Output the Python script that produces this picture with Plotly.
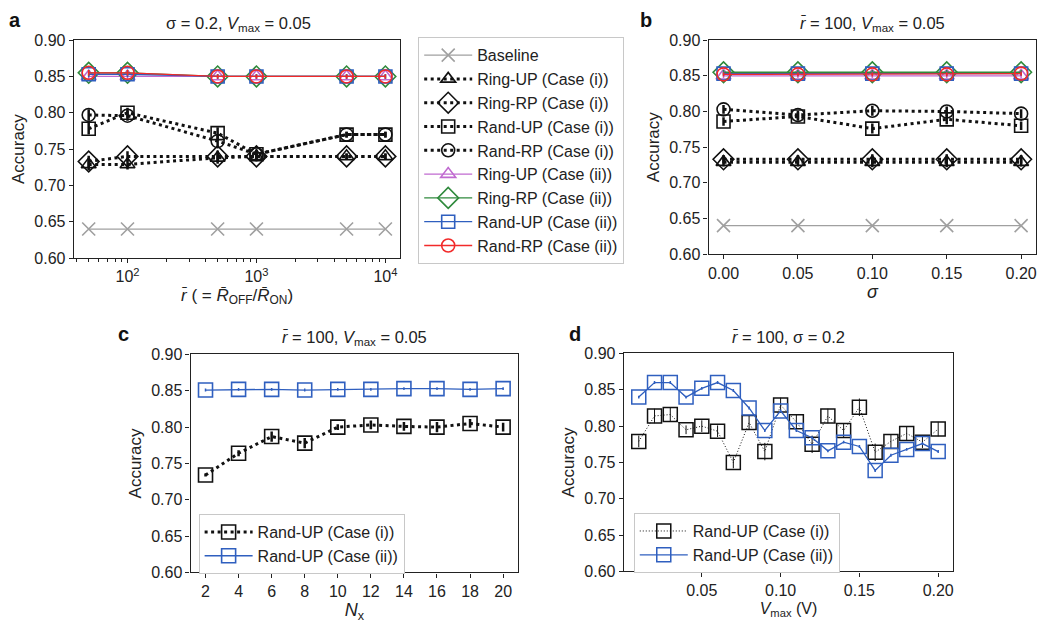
import plotly.graph_objects as go

# ---------------- data ----------------
# panel a
r_vals = [50, 100, 500, 1000, 5000, 10000]
a_baseline = [0.64, 0.64, 0.64, 0.64, 0.64, 0.64]
a_ringup_i = [0.729, 0.729, 0.738, 0.740, 0.740, 0.740]
a_ringrp_i = [0.733, 0.740, 0.740, 0.740, 0.740, 0.740]
a_randup_i = [0.778, 0.800, 0.772, 0.743, 0.770, 0.770]
a_randrp_i = [0.797, 0.796, 0.761, 0.743, 0.770, 0.770]
a_ringup_ii = [0.850, 0.850, 0.850, 0.850, 0.850, 0.850]
a_ringrp_ii = [0.855, 0.855, 0.850, 0.850, 0.850, 0.850]
a_randup_ii = [0.853, 0.853, 0.850, 0.850, 0.850, 0.850]
a_randrp_ii = [0.855, 0.855, 0.850, 0.850, 0.850, 0.850]
a_err_i = [0.008, 0.007, 0.008, 0.006, 0.004, 0.004]
a_err_ii = [0.004, 0.004, 0.003, 0.003, 0.003, 0.003]

# panel b
sigma_vals = [0.00, 0.05, 0.10, 0.15, 0.20]
b_baseline = [0.64, 0.64, 0.64, 0.64, 0.64]
b_ringup_i = [0.729, 0.729, 0.729, 0.729, 0.729]
b_ringrp_i = [0.733, 0.733, 0.733, 0.733, 0.733]
b_randup_i = [0.786, 0.793, 0.776, 0.789, 0.780]
b_randrp_i = [0.803, 0.795, 0.801, 0.800, 0.797]
b_ringup_ii = [0.850, 0.850, 0.850, 0.850, 0.850]
b_ringrp_ii = [0.855, 0.855, 0.855, 0.855, 0.855]
b_randup_ii = [0.853, 0.853, 0.853, 0.853, 0.853]
b_randrp_ii = [0.852, 0.852, 0.852, 0.852, 0.853]
b_err_i = [0.006, 0.006, 0.007, 0.007, 0.006]
b_err_ii = [0.003, 0.003, 0.003, 0.003, 0.003]

# panel c
nx_vals = [2, 4, 6, 8, 10, 12, 14, 16, 18, 20]
c_randup_i = [0.734, 0.764, 0.787, 0.778, 0.800, 0.803, 0.801, 0.800, 0.805, 0.800]
c_randup_ii = [0.851, 0.852, 0.852, 0.851, 0.852, 0.852, 0.853, 0.853, 0.852, 0.853]
c_err_i = [0.002, 0.004, 0.007, 0.007, 0.004, 0.006, 0.006, 0.007, 0.006, 0.006]
c_err_ii = [0.002, 0.002, 0.002, 0.002, 0.002, 0.002, 0.002, 0.002, 0.002, 0.002]

# panel d
vmax_vals = [0.01, 0.02, 0.03, 0.04, 0.05, 0.06, 0.07, 0.08, 0.09, 0.10,
             0.11, 0.12, 0.13, 0.14, 0.15, 0.16, 0.17, 0.18, 0.19, 0.20]
d_randup_i = [0.779, 0.814, 0.816, 0.795, 0.800, 0.793, 0.750, 0.805, 0.765, 0.829,
              0.806, 0.775, 0.814, 0.794, 0.826, 0.764, 0.779, 0.790, 0.778, 0.796]
d_randup_ii = [0.840, 0.860, 0.860, 0.840, 0.852, 0.860, 0.849, 0.825, 0.794, 0.821,
               0.794, 0.784, 0.766, 0.778, 0.772, 0.739, 0.760, 0.768, 0.776, 0.765]
d_err_i = [0.008, 0.010, 0.010, 0.006, 0.008, 0.008, 0.008, 0.010, 0.012, 0.010,
           0.010, 0.012, 0.010, 0.010, 0.012, 0.012, 0.010, 0.010, 0.008, 0.010]
d_err_ii = [0.002, 0.002, 0.002, 0.002, 0.002, 0.002, 0.002, 0.002, 0.002, 0.002,
            0.002, 0.002, 0.002, 0.002, 0.002, 0.002, 0.002, 0.002, 0.002, 0.002]

yticks = [0.60, 0.65, 0.70, 0.75, 0.80, 0.85, 0.90]

# ---------------- styles ----------------
FONT = "Liberation Sans, Arial, sans-serif"
GRAY = "#a0a0a0"
PURPLE = "#c06ad0"
GREEN = "#2f8a3c"
BLUE = "#2f5fbf"
RED = "#f22a2a"
BLACK = "#111111"
TXT = "#222222"
MS = 13

fig = go.Figure()


def add(x, y, name, color, symbol, dash, lw, err=None, ax="", legend=None,
        show=True, msize=MS, mlw=1.6, errw=1.5):
    kw = {}
    if err is not None:
        kw["error_y"] = dict(type="data", array=err, visible=True, color=color,
                             thickness=errw, width=0)
    fig.add_trace(go.Scatter(
        x=x, y=y, name=name, mode="lines+markers",
        line=dict(color=color, width=lw, dash=dash),
        marker=dict(symbol=symbol, size=msize, color=color,
                    line=dict(color=color, width=mlw)),
        xaxis="x" + ax, yaxis="y" + ax,
        showlegend=show, legend=legend, **kw))


DOT = "3px,3.5px"

# panel a
add(r_vals, a_baseline, "Baseline", GRAY, "x-thin-open", "solid", 1.3, ax="", legend="legend", mlw=1.6)
add(r_vals, a_ringup_i, "Ring-UP (Case (i))", BLACK, "triangle-up-open", DOT, 3, a_err_i, "", "legend", errw=2.5)
add(r_vals, a_ringrp_i, "Ring-RP (Case (i))", BLACK, "diamond-open", DOT, 3, a_err_i, "", "legend", msize=16, errw=2.5)
add(r_vals, a_randup_i, "Rand-UP (Case (i))", BLACK, "square-open", DOT, 3, a_err_i, "", "legend", errw=2.5)
add(r_vals, a_randrp_i, "Rand-RP (Case (i))", BLACK, "circle-open", DOT, 3, a_err_i, "", "legend", errw=2.5)
add(r_vals, a_ringup_ii, "Ring-UP (Case (ii))", PURPLE, "triangle-up-open", "solid", 1.3, a_err_ii, "", "legend")
add(r_vals, a_ringrp_ii, "Ring-RP (Case (ii))", GREEN, "diamond-open", "solid", 1.3, a_err_ii, "", "legend", msize=16)
add(r_vals, a_randup_ii, "Rand-UP (Case (ii))", BLUE, "square-open", "solid", 1.3, a_err_ii, "", "legend")
add(r_vals, a_randrp_ii, "Rand-RP (Case (ii))", RED, "circle-open", "solid", 1.3, a_err_ii, "", "legend")

# panel b
add(sigma_vals, b_baseline, "Baseline", GRAY, "x-thin-open", "solid", 1.3, ax="2", show=False)
add(sigma_vals, b_ringup_i, "Ring-UP (Case (i))", BLACK, "triangle-up-open", DOT, 3, b_err_i, "2", show=False, errw=2.5)
add(sigma_vals, b_ringrp_i, "Ring-RP (Case (i))", BLACK, "diamond-open", DOT, 3, b_err_i, "2", show=False, msize=16, errw=2.5)
add(sigma_vals, b_randup_i, "Rand-UP (Case (i))", BLACK, "square-open", DOT, 3, b_err_i, "2", show=False, errw=2.5)
add(sigma_vals, b_randrp_i, "Rand-RP (Case (i))", BLACK, "circle-open", DOT, 3, b_err_i, "2", show=False, errw=2.5)
add(sigma_vals, b_ringup_ii, "Ring-UP (Case (ii))", PURPLE, "triangle-up-open", "solid", 1.3, b_err_ii, "2", show=False)
add(sigma_vals, b_ringrp_ii, "Ring-RP (Case (ii))", GREEN, "diamond-open", "solid", 1.3, b_err_ii, "2", show=False, msize=16)
add(sigma_vals, b_randup_ii, "Rand-UP (Case (ii))", BLUE, "square-open", "solid", 1.3, b_err_ii, "2", show=False)
add(sigma_vals, b_randrp_ii, "Rand-RP (Case (ii))", RED, "circle-open", "solid", 1.3, b_err_ii, "2", show=False)

# panel c
add(nx_vals, c_randup_i, "Rand-UP (Case (i))", BLACK, "square-open", DOT, 3, c_err_i, "3", "legend2", msize=14, errw=2.5)
add(nx_vals, c_randup_ii, "Rand-UP (Case (ii))", BLUE, "square-open", "solid", 1.3, c_err_ii, "3", "legend2", msize=14)

# panel d
add(vmax_vals, d_randup_i, "Rand-UP (Case (i))", BLACK, "square-open", "1px,2px", 1, d_err_i, "4", "legend3", msize=14, mlw=1.5, errw=1)
add(vmax_vals, d_randup_ii, "Rand-UP (Case (ii))", BLUE, "square-open", "solid", 1.3, d_err_ii, "4", "legend3", msize=14, mlw=1.5)


def axis_common():
    return dict(showline=True, linecolor=TXT, linewidth=1.3, mirror=True,
                ticks="outside", ticklen=4, tickcolor=TXT, tickwidth=1.1,
                showgrid=False, zeroline=False,
                tickfont=dict(family=FONT, size=16, color=TXT))


def yax(domain, anchor):
    d = axis_common()
    d.update(domain=domain, anchor=anchor, range=[0.60, 0.90], tickvals=yticks,
             tickformat=".2f",
             title=dict(text="Accuracy", font=dict(family=FONT, size=17, color=TXT), standoff=5))
    return d


W, H = 1040.0, 634.0


def dx(a, b):
    return [a / W, b / W]


def dy(top, bottom):
    return [1 - bottom / H, 1 - top / H]


xa = axis_common()
xa.update(domain=dx(73, 400), anchor="y", type="log", range=[1.584, 4.115],
          tickvals=[100, 1000, 10000],
          ticktext=["10<sup>2</sup>", "10<sup>3</sup>", "10<sup>4</sup>"],
          minor=dict(ticks="outside", ticklen=2.5, tickcolor=TXT, dtick="D1", showgrid=False),
          title=dict(text="<i>r\u0304</i> ( = <i>R\u0304</i><sub>OFF</sub>/<i>R\u0304</i><sub>ON</sub>)",
                     font=dict(family=FONT, size=17, color=TXT), standoff=4))
xb = axis_common()
xb.update(domain=dx(709, 1037), anchor="y2", range=[-0.01, 0.21],
          tickvals=sigma_vals, tickformat=".2f",
          title=dict(text="<i>σ</i>", font=dict(family=FONT, size=18, color=TXT), standoff=4))
xc = axis_common()
xc.update(domain=dx(190, 518), anchor="y3", range=[1.1, 20.9], tickvals=nx_vals,
          title=dict(text="<i>N</i><sub>x</sub>", font=dict(family=FONT, size=18, color=TXT), standoff=4))
xd = axis_common()
xd.update(domain=dx(624, 954), anchor="y4", range=[0.0005, 0.2095],
          tickvals=[0.05, 0.10, 0.15, 0.20], tickformat=".2f",
          title=dict(text="<i>V</i><sub>max</sub> (V)", font=dict(family=FONT, size=16, color=TXT), standoff=4))

LEGFONT = dict(family=FONT, size=16, color=TXT)
fig.update_layout(
    width=1040, height=634, margin=dict(l=0, r=0, t=0, b=0),
    paper_bgcolor="white", plot_bgcolor="white",
    font=dict(family=FONT, size=16, color=TXT),
    xaxis=xa, yaxis=yax(dy(33, 257), "x"),
    xaxis2=xb, yaxis2=yax(dy(33, 253), "x2"),
    xaxis3=xc, yaxis3=yax(dy(356, 580), "x3"),
    xaxis4=xd, yaxis4=yax(dy(355, 579), "x4"),
    legend=dict(x=418 / W, y=1 - 30 / H, xanchor="left", yanchor="top",
                bordercolor="#c8c8c8", borderwidth=1, bgcolor="white",
                font=LEGFONT, tracegroupgap=0, itemwidth=48),
    legend2=dict(x=198 / W, y=1 - 520 / H, xanchor="left", yanchor="top",
                 bordercolor="#c8c8c8", borderwidth=1, bgcolor="white",
                 font=LEGFONT, tracegroupgap=0, itemwidth=48),
    legend3=dict(x=634 / W, y=1 - 519 / H, xanchor="left", yanchor="top",
                 bordercolor="#c8c8c8", borderwidth=1, bgcolor="white",
                 font=LEGFONT, tracegroupgap=0, itemwidth=48),
    showlegend=True,
)

ann = []
# panel letters
for txt, x, y in [("a", 6, 12), ("b", 638, 12), ("c", 115, 335), ("d", 567, 335)]:
    ann.append(dict(text="<b>%s</b>" % txt, x=x / W, y=1 - y / H, xref="paper", yref="paper",
                    xanchor="left", yanchor="middle", showarrow=False,
                    font=dict(family=FONT, size=20, color="#111111")))
# panel titles
for txt, x, y in [("σ = 0.2, <i>V</i><sub>max</sub> = 0.05", 238, 16),
                  ("<i>r\u0304</i> = 100, <i>V</i><sub>max</sub> = 0.05", 873, 16),
                  ("<i>r\u0304</i> = 100, <i>V</i><sub>max</sub> = 0.05", 354, 339),
                  ("<i>r\u0304</i> = 100, σ = 0.2", 789, 338)]:
    ann.append(dict(text=txt, x=x / W, y=1 - y / H, xref="paper", yref="paper",
                    xanchor="center", yanchor="middle", showarrow=False,
                    font=dict(family=FONT, size=16.5, color=TXT)))
fig.update_layout(annotations=ann)

fig.write_html("out.html")
